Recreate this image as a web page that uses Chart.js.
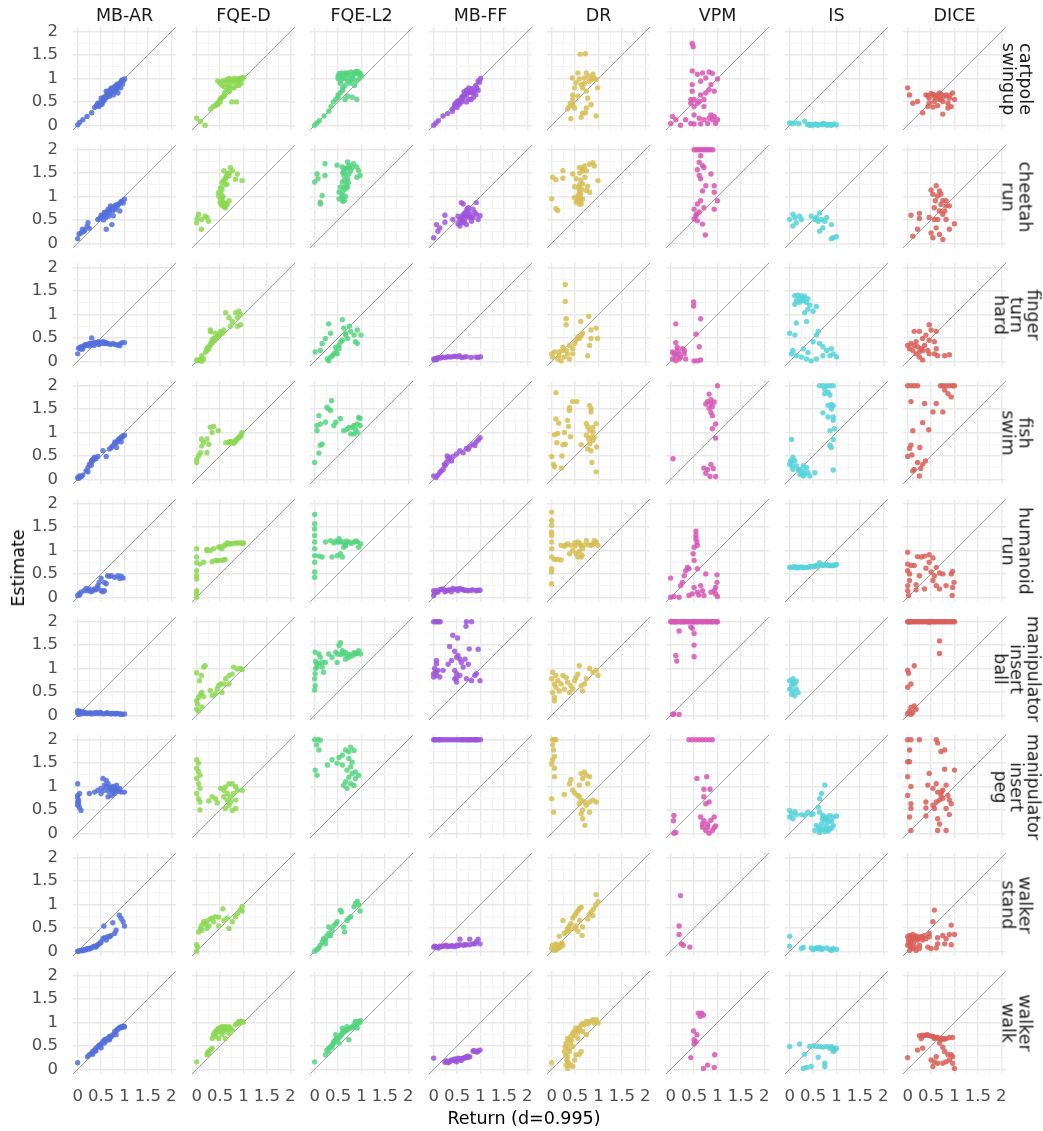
<!DOCTYPE html>
<html>
<head>
<meta charset="utf-8">
<title>Estimate vs Return</title>
<script src="https://cdn.jsdelivr.net/npm/chart.js@4.4.1/dist/chart.umd.min.js"></script>
<style>
  html, body { margin: 0; padding: 0; background: #ffffff; }
  #fig { position: relative; width: 1043px; height: 1131px; overflow: hidden; font-family: 'DejaVu Sans', sans-serif; }
  #fig canvas { position: absolute; }
  .strip-top { position: absolute; font-size: 17.5px; color: #1a1a1a; white-space: nowrap; transform: translate(-50%, -50%); }
  .strip-right { position: absolute; font-size: 17.5px; color: #1a1a1a; line-height: 16.5px; text-align: center; white-space: pre; transform: translate(-50%, -50%) rotate(90deg); }
  .axis-title { position: absolute; font-size: 17.5px; color: #000000; white-space: nowrap; }
</style>
</head>
<body>
<div id="fig"></div>
<script>
// Facet labels
const METHODS = ['MB-AR', 'FQE-D', 'FQE-L2', 'MB-FF', 'DR', 'VPM', 'IS', 'DICE'];
const ENVS = [
  ['cartpole', 'swingup'], ['cheetah', 'run'], ['finger', 'turn', 'hard'], ['fish', 'swim'],
  ['humanoid', 'run'], ['manipulator', 'insert', 'ball'], ['manipulator', 'insert', 'peg'],
  ['walker', 'stand'], ['walker', 'walk']
];
const X_TITLE = 'Return (d=0.995)';
const Y_TITLE = 'Estimate';

// Axis breaks (major with labels, minor without)
const MAJOR_TICKS = [0, 0.5, 1, 1.5, 2];
const TICK_LABELS = ['0', '0.5', '1', '1.5', '2'];
const MINOR_TICKS = [0.25, 0.75, 1.25, 1.75];
const AXIS_LIMITS = [-0.1, 2.1];

const COLORS = ['#5470da', '#8cd852', '#53d57f', '#9d55dc', '#d7be55', '#d756b6', '#56d2da', '#d95f58'];

// [return, estimate] pairs per environment, in ENVS order
const MB_AR = [
  [[0,0.01],[0.04,0.06],[0.11,0.12],[0.2,0.19],[0.3,0.27],[0.36,0.38],[0.4,0.42],[0.43,0.47],[0.45,0.4],[0.48,0.44],[0.5,0.5],[0.52,0.45],[0.55,0.52],[0.5,0.58],[0.58,0.55],[0.6,0.62],[0.61,0.73],[0.65,0.73],[0.68,0.62],[0.7,0.68],[0.72,0.8],[0.74,0.75],[0.76,0.65],[0.79,0.83],[0.8,0.72],[0.83,0.76],[0.85,0.8],[0.86,0.87],[0.86,0.69],[0.9,0.9],[0.92,0.8],[0.94,0.94],[0.96,0.88],[1,0.99],[0.98,0.96],[0.7,0.76],[0.63,0.67],[0.56,0.6],[0.55,0.55],[0.62,0.6],[0.66,0.66],[0.75,0.72],[0.78,0.78],[0.82,0.82],[0.88,0.84],[0.92,0.92],[0.95,0.97],[0.84,0.88],[0.47,0.48],[0.53,0.5],[0.44,0.44]],
  [[0,0.1],[0.03,0.2],[0.07,0.22],[0.1,0.3],[0.15,0.28],[0.2,0.36],[0.22,0.44],[0.25,0.32],[0.13,0.25],[0.43,0.51],[0.47,0.53],[0.5,0.6],[0.54,0.59],[0.57,0.66],[0.6,0.55],[0.62,0.62],[0.65,0.73],[0.68,0.66],[0.72,0.76],[0.75,0.7],[0.79,0.8],[0.8,0.72],[0.86,0.83],[0.9,0.69],[0.94,0.9],[0.97,0.86],[1,0.94],[0.76,0.59],[0.61,0.3],[0.73,0.4],[0.55,0.5],[0.66,0.58],[0.7,0.8],[0.84,0.78],[0.6,0.66],[0.64,0.68],[0.7,0.72],[0.74,0.74],[0.78,0.76],[0.82,0.82],[0.88,0.84],[0.58,0.62],[0.68,0.7],[0.92,0.88]],
  [[0,0.16],[0.02,0.28],[0.05,0.3],[0.08,0.27],[0.1,0.32],[0.15,0.35],[0.2,0.34],[0.25,0.38],[0.3,0.5],[0.3,0.36],[0.35,0.4],[0.4,0.38],[0.45,0.42],[0.45,0.36],[0.5,0.4],[0.55,0.38],[0.55,0.42],[0.6,0.4],[0.65,0.38],[0.7,0.36],[0.75,0.38],[0.8,0.36],[0.85,0.35],[0.9,0.37],[0.9,0.33],[0.95,0.4],[1,0.4],[0.35,0.34],[0.25,0.33],[0.12,0.3],[0.18,0.36],[0.28,0.38],[0.38,0.4],[0.42,0.39],[0.48,0.38],[0.52,0.41],[0.58,0.39],[0.62,0.38],[0.05,0.27],[0.1,0.26]],
  [[0,0.04],[0.04,0.07],[0.08,0.06],[0.11,0.09],[0.18,0.18],[0.22,0.25],[0.25,0.32],[0.29,0.37],[0.32,0.42],[0.36,0.47],[0.39,0.44],[0.43,0.49],[0.54,0.61],[0.61,0.49],[0.68,0.65],[0.72,0.68],[0.75,0.72],[0.79,0.76],[0.83,0.79],[0.86,0.83],[0.9,0.86],[0.93,0.9],[0.97,0.93],[1,0.94],[0.93,0.8],[0.83,0.68],[0.29,0.3],[0.22,0.16],[0.02,0.02],[0.8,0.8],[0.85,0.8],[0.88,0.86],[0.92,0.88],[0.95,0.9],[0.3,0.4],[0.34,0.44],[0.05,0.05]],
  [[0,0.04],[0.03,0.07],[0.04,0.05],[0.07,0.11],[0.14,0.14],[0.18,0.19],[0.22,0.14],[0.25,0.18],[0.29,0.12],[0.32,0.14],[0.39,0.16],[0.43,0.25],[0.46,0.32],[0.5,0.41],[0.5,0.14],[0.54,0.12],[0.57,0.14],[0.57,0.32],[0.61,0.29],[0.64,0.46],[0.68,0.45],[0.72,0.46],[0.79,0.43],[0.86,0.46],[0.93,0.45],[0.97,0.41],[0.9,0.4],[0.43,0.2],[0.36,0.18]],
  [[0,0.05],[0,0.1],[0.02,0.08],[0.03,0.02],[0.05,0.06],[0.08,0.05],[0.1,0.04],[0.12,0.07],[0.15,0.05],[0.2,0.04],[0.25,0.05],[0.3,0.03],[0.35,0.05],[0.4,0.06],[0.45,0.04],[0.5,0.05],[0.55,0.03],[0.6,0.04],[0.65,0.05],[0.7,0.03],[0.75,0.04],[0.8,0.03],[0.85,0.04],[0.9,0.03],[0.95,0.02],[1,0.03],[0.02,0.05],[0.06,0.09],[0.18,0.05],[0.28,0.05],[0.38,0.04],[0.48,0.06],[0.62,0.05],[0.72,0.04],[0.82,0.04],[0.92,0.03]],
  [[0,1.06],[0,0.81],[0,0.76],[0,0.67],[0,0.6],[0.04,0.55],[0.07,0.49],[0.04,0.85],[0.25,0.85],[0.36,0.88],[0.43,0.92],[0.5,0.96],[0.54,1.17],[0.61,1.13],[0.57,1.03],[0.65,1.06],[0.68,0.96],[0.72,0.92],[0.75,1],[0.79,0.96],[0.86,0.92],[0.9,0.96],[0.93,0.88],[1,0.88],[0.72,0.81],[0.65,0.78],[0.79,0.85],[0.83,1.03],[0.57,0.92],[0.5,0.85],[0.7,0.98],[0.74,0.94],[0.78,0.9],[0.8,0.98],[0.84,0.95],[0.88,0.9],[0.76,0.88],[0.66,0.9],[0.62,1],[0.02,0.7],[0.02,0.63]],
  [[0,0],[0.04,0.01],[0.07,0.02],[0.11,0.01],[0.14,0.04],[0.18,0.04],[0.21,0.06],[0.29,0.07],[0.32,0.09],[0.36,0.11],[0.43,0.14],[0.5,0.2],[0.57,0.29],[0.64,0.31],[0.71,0.34],[0.79,0.38],[0.82,0.45],[0.56,0.54],[0.75,0.61],[0.89,0.77],[0.93,0.7],[0.97,0.63],[1,0.54],[0.68,0.31],[0.61,0.24],[0.46,0.16],[0.54,0.27],[0.39,0.09],[0.02,0],[0.09,0.02],[0.16,0.03],[0.24,0.05],[0.27,0.06],[0.34,0.1],[0.41,0.12],[0.48,0.18]],
  [[0,0.14],[0.21,0.27],[0.25,0.31],[0.29,0.34],[0.32,0.38],[0.36,0.41],[0.39,0.45],[0.43,0.48],[0.46,0.51],[0.5,0.54],[0.54,0.59],[0.57,0.63],[0.61,0.61],[0.64,0.66],[0.68,0.63],[0.72,0.7],[0.75,0.74],[0.79,0.81],[0.82,0.82],[0.86,0.86],[0.89,0.89],[0.93,0.91],[0.97,0.91],[1,0.91],[0.32,0.32],[0.39,0.39],[0.5,0.46],[0.57,0.56],[0.68,0.7],[0.82,0.74],[0.85,0.85],[0.9,0.88],[0.95,0.9],[0.98,0.92],[0.62,0.64],[0.66,0.66],[0.7,0.69],[0.45,0.5],[0.48,0.52],[0.35,0.38]]
];

const FQE_D = [
  [[0,0.15],[0.08,0.08],[0.18,0],[0.3,0.35],[0.35,0.4],[0.4,0.42],[0.45,0.48],[0.5,0.5],[0.5,0.55],[0.52,0.58],[0.55,0.6],[0.58,0.62],[0.6,0.65],[0.6,0.7],[0.65,0.75],[0.7,0.72],[0.75,0.8],[0.8,0.8],[0.85,0.85],[0.5,0.9],[0.45,0.95],[0.55,0.95],[0.6,0.82],[0.55,0.85],[0.65,0.9],[0.7,0.85],[0.7,1],[0.75,0.95],[0.8,1],[0.85,0.95],[0.9,1],[0.9,0.85],[0.95,1],[0.95,0.9],[1,1.02],[0.75,0.5],[0.85,0.5],[0.6,0.95],[0.65,0.98],[0.72,0.97],[0.78,0.92],[0.82,0.98],[0.88,0.98],[0.92,0.95],[0.98,1],[0.45,0.45],[0.48,0.5],[0.42,0.45],[0.68,0.8]],
  [[0.04,0.62],[0.11,0.51],[0.22,0.55],[0.25,0.47],[0,0.44],[0.1,0.3],[0.01,0.53],[0.18,0.58],[0.5,0.87],[0.58,0.8],[0.61,0.76],[0.65,0.83],[0.69,0.91],[0.54,0.98],[0.47,1.09],[0.51,1.19],[0.54,1.3],[0.61,1.37],[0.69,1.44],[0.72,1.62],[0.58,1.55],[0.76,1.55],[0.87,1.48],[0.97,1.34],[0.83,1.37],[0.65,1.26],[0.54,1.15],[0.47,1.01],[0.51,0.94],[0.58,0.86],[0.62,1.4],[0.66,1.5],[0.6,0.78],[0.52,0.84],[0.55,0.9],[0.6,0.82],[0.56,1],[0.52,1.05],[0.6,1.25],[0.58,1.35],[0.64,1.45],[0.7,1.5],[0.55,0.8],[0.62,0.85]],
  [[0,0.03],[0.04,0.01],[0.11,0],[0.15,0.05],[0.22,0.23],[0.26,0.27],[0.3,0.38],[0.33,0.45],[0.36,0.49],[0.4,0.6],[0.47,0.56],[0.51,0.64],[0.58,0.67],[0.29,0.67],[0.3,0.63],[0.62,1.04],[0.69,0.93],[0.83,1.04],[0.9,1.07],[0.94,1],[0.87,0.93],[0.76,0.85],[0.72,0.75],[0.87,0.75],[0.94,0.78],[0.55,0.6],[0.44,0.53],[0.19,0.2],[0.11,0.12],[0.22,0.27],[0.08,0.04],[0.02,0.02],[0.06,0.03],[0.24,0.3],[0.28,0.33],[0.34,0.4],[0.38,0.45],[0.42,0.5],[0.5,0.58]],
  [[0,0.36],[0.04,0.5],[0.08,0.57],[0.11,0.71],[0.1,0.86],[0.22,0.86],[0.26,0.75],[0.15,0.79],[0.29,1.11],[0.36,1.13],[0.46,1.04],[0.33,1],[0.22,0.57],[0,0.43],[0.62,0.78],[0.69,0.78],[0.76,0.79],[0.83,0.83],[0.87,0.86],[0.94,0.93],[0.97,1],[0.8,0.78],[0.9,0.9],[0.72,0.81],[0.7,0.8],[0.75,0.8],[0.78,0.77],[0.82,0.8],[0.85,0.85],[0.92,0.9],[0.95,0.95]],
  [[0,0],[0,0.07],[0,0.14],[0,0.39],[0,0.46],[0,0.57],[0,0.74],[0,0.86],[0.07,0.71],[0.15,0.75],[0,1.04],[0.22,1],[0.29,1],[0.36,1.04],[0.47,1.07],[0.54,1.04],[0.65,1.16],[0.72,1.14],[0.83,1.16],[0.94,1.16],[1,1.16],[0.4,0.79],[0.47,0.79],[0.54,0.79],[0.61,0.81],[0.33,0.76],[0.22,1.02],[0.5,1.08],[0.58,1.1],[0.62,1.12],[0.68,1.15],[0.76,1.15],[0.88,1.16],[0.98,1.15],[0.44,0.78],[0.58,0.8]],
  [[0,0.13],[0.02,0.24],[0,0.31],[0.04,0.38],[0.08,0.45],[0.11,0.49],[0.15,0.4],[0,0.91],[0.06,0.74],[0.1,0.85],[0.15,1.03],[0.18,1.06],[0.29,0.53],[0.4,0.46],[0.44,0.57],[0.47,0.64],[0.51,0.67],[0.54,0.49],[0.58,0.67],[0.62,0.78],[0.69,0.67],[0.69,0.85],[0.76,0.88],[0.79,1.03],[0.87,0.99],[0.94,1],[0.97,0.98],[0.33,0.42],[0.04,0.09],[0.11,0.18]],
  [[0,1.57],[0.04,1.5],[0,1.39],[0.04,1.32],[0.07,1.24],[0,1.17],[0.04,1.06],[0.07,0.96],[0,0.85],[0.04,0.74],[0.07,0.67],[0.07,0.5],[0.26,0.69],[0.33,0.78],[0.4,0.74],[0.44,0.65],[0.51,0.96],[0.58,0.92],[0.61,0.99],[0.69,1.06],[0.76,1.06],[0.83,1],[0.87,0.92],[0.79,0.85],[0.72,0.78],[0.65,0.71],[0.69,0.6],[0.61,0.53],[0.76,0.49],[0.83,0.53],[0.72,0.67],[0.83,0.71],[0.97,0.92],[0.58,0.78],[0.65,0.85]],
  [[0,0],[0,0.14],[0.02,0.09],[0.04,0.41],[0.08,0.49],[0.11,0.56],[0.15,0.63],[0.18,0.59],[0.22,0.65],[0.29,0.69],[0.33,0.71],[0.4,0.74],[0.47,0.73],[0.36,0.63],[0.26,0.54],[0.47,0.54],[0.56,0.91],[0.58,0.66],[0.65,0.71],[0.69,0.49],[0.76,0.63],[0.83,0.74],[0.87,0.81],[0.94,0.89],[0.97,0.96],[0.97,0.86],[0.11,0.45],[0.22,0.49]],
  [[0,0.16],[0.22,0.31],[0.26,0.38],[0.29,0.41],[0.33,0.45],[0.33,0.66],[0.36,0.74],[0.4,0.81],[0.44,0.84],[0.47,0.88],[0.51,0.89],[0.54,0.91],[0.58,0.88],[0.61,0.91],[0.65,0.84],[0.69,0.91],[0.72,0.88],[0.76,0.84],[0.83,0.95],[0.87,0.98],[0.9,1.02],[0.97,1.02],[1,1.01],[0.54,0.74],[0.61,0.66],[0.69,0.77],[0.47,0.66],[0.4,0.7],[0.51,0.81],[0.58,0.81],[0.45,0.85],[0.5,0.86],[0.55,0.9],[0.6,0.86],[0.63,0.9],[0.68,0.88],[0.42,0.78],[0.38,0.77],[0.25,0.34],[0.24,0.36],[0.92,1],[0.95,1.02]]
];

const FQE_L2 = [
  [[0,0],[0.05,0.05],[0.1,0.1],[0.2,0.2],[0.3,0.3],[0.35,0.4],[0.4,0.5],[0.45,0.55],[0.5,0.6],[0.5,0.65],[0.55,0.7],[0.6,0.75],[0.55,0.95],[0.5,1.05],[0.5,1],[0.6,1.05],[0.65,1],[0.7,1.08],[0.75,1],[0.8,1.05],[0.85,1.1],[0.9,1.1],[0.95,1.12],[1,1.05],[0.9,0.95],[0.85,0.85],[0.75,0.9],[0.65,0.85],[0.6,0.8],[0.8,0.6],[0.65,0.55],[0.9,0.55],[0.7,0.62],[0.55,0.9],[0.95,1],[0.7,0.95],[0.8,0.95],[0.52,1.1],[0.58,1.12],[0.62,1.1],[0.66,1.12],[0.72,1.12],[0.78,1.14],[0.84,1.12],[0.88,1.15],[0.92,1.15],[0.97,1.1],[0.6,1],[0.82,1]],
  [[0,1.31],[0.07,1.38],[0.22,1.45],[0.22,1.7],[0.05,1.48],[0.16,1.02],[0.12,0.84],[0.12,0.88],[0.48,1.67],[0.59,1.63],[0.7,1.74],[0.73,1.67],[0.83,1.7],[0.9,1.63],[0.94,1.55],[0.97,1.45],[0.9,1.41],[0.66,1.6],[0.63,1.45],[0.59,1.31],[0.55,1.2],[0.52,1.09],[0.52,0.95],[0.63,0.91],[0.59,1.02],[0.66,1.16],[0.7,1.38],[0.73,1.48],[0.77,1.55],[0.8,1.62],[0.6,1.5],[0.68,1.25],[0.62,1.55],[0.65,1.5],[0.64,1.35],[0.62,1.2],[0.6,1.1],[0.58,0.98],[0.66,1],[0.7,1.2],[0.72,1.3],[0.68,1.6],[0.74,1.62],[0.6,0.9]],
  [[0.01,0.2],[0.12,0.23],[0.16,0.38],[0.23,0.49],[0.3,0.8],[0.34,0.6],[0.41,0.16],[0.27,0.05],[0.34,0.09],[0.38,0.12],[0.45,0.2],[0.52,0.27],[0.56,0.42],[0.59,0.45],[0.62,0.71],[0.66,0.6],[0.7,0.49],[0.74,0.75],[0.77,0.64],[0.84,0.56],[0.91,0.67],[0.99,0.56],[0.91,0.38],[0.87,0.42],[0.59,0.89],[0.66,0.56],[0.48,0.16],[0.3,0.01],[0.52,0.35],[0.45,0.3]],
  [[0,0.36],[0.09,0.56],[0.12,0.73],[0.16,0.75],[0.05,1.04],[0.05,1.15],[0.12,1.18],[0.09,1.36],[0.23,1.22],[0.26,1.54],[0.3,1.5],[0.36,1.68],[0.34,1.47],[0.41,1.15],[0.45,1.22],[0.55,1.3],[0.62,1.04],[0.69,1.07],[0.73,1.11],[0.77,0.97],[0.8,1.11],[0.84,1.15],[0.87,1.07],[0.91,1.18],[0.94,1.32],[0.97,1.3],[0.91,1],[0.84,0.97],[0.97,1.15]],
  [[0,1.77],[0,1.57],[0,1.46],[0,1.32],[0,1.18],[0,1.04],[0,0.89],[0,0.75],[0,0.54],[0,0.43],[0.09,0.88],[0.16,0.86],[0.23,1.18],[0.34,1.21],[0.41,1.16],[0.52,1.25],[0.55,1.18],[0.37,0.86],[0.48,0.89],[0.55,0.93],[0.62,1.07],[0.66,1.14],[0.73,1.18],[0.84,1.18],[0.91,1.19],[0.98,1.14],[0.94,1.07],[0.59,0.86],[0.45,1.2],[0.6,1.18],[0.68,1.2],[0.78,1.15],[0.88,1.2],[0.5,1.18],[0.66,1.1]],
  [[0,0.54],[0.01,0.63],[0,0.78],[0.01,0.89],[0.05,1.03],[0.09,1.1],[0.12,1.24],[0.09,1.31],[0.01,1.35],[0.16,1.03],[0.19,0.92],[0.23,1.13],[0.3,1.31],[0.37,1.24],[0.45,1.35],[0.48,1.31],[0.52,1.49],[0.55,1.55],[0.59,1.38],[0.62,1.31],[0.66,1.2],[0.73,1.24],[0.8,1.27],[0.87,1.31],[0.94,1.38],[0.98,1.31],[0.66,1.35],[0.48,1.13],[0.16,1.13],[0.55,1.3],[0.6,1.33],[0.7,1.28],[0.75,1.3],[0.84,1.34],[0.9,1.32],[0.02,1],[0.05,1.1],[0.02,1.15]],
  [[0,2],[0.07,2],[0.12,1.99],[0.04,1.89],[0.09,1.78],[0.01,1.35],[0.05,1.24],[0.27,1.46],[0.37,1.57],[0.48,1.5],[0.52,1.62],[0.59,1.67],[0.66,1.78],[0.73,1.74],[0.77,1.84],[0.84,1.77],[0.73,1.6],[0.8,1.52],[0.59,1.46],[0.77,1.42],[0.69,1.35],[0.8,1.28],[0.87,1.31],[0.94,1.24],[0.73,1.2],[0.66,1.1],[0.77,1.06],[0.69,0.96],[0.87,1.17],[0.84,1.02],[0.62,1.02]],
  [[0,0],[0.05,0.04],[0.09,0.07],[0.12,0.13],[0.16,0.2],[0.19,0.27],[0.23,0.24],[0.26,0.33],[0.3,0.38],[0.3,0.52],[0.37,0.45],[0.41,0.54],[0.45,0.59],[0.48,0.63],[0.55,0.88],[0.57,0.84],[0.62,0.52],[0.64,0.41],[0.69,0.66],[0.73,0.71],[0.77,0.74],[0.84,0.95],[0.87,1.02],[0.91,1.07],[0.94,0.99],[0.97,0.86],[0.23,0.16],[0.34,0.34]],
  [[0,0.16],[0.23,0.31],[0.26,0.41],[0.3,0.45],[0.34,0.48],[0.37,0.52],[0.41,0.59],[0.45,0.63],[0.48,0.66],[0.52,0.68],[0.52,0.56],[0.55,0.73],[0.59,0.77],[0.62,0.81],[0.66,0.84],[0.69,0.84],[0.59,0.88],[0.69,0.91],[0.73,0.63],[0.77,0.88],[0.8,0.91],[0.84,0.95],[0.87,1.02],[0.91,0.99],[0.94,1.02],[0.98,1.04],[0.91,0.88],[0.45,0.74],[0.3,0.38],[0.37,0.47],[0.4,0.55],[0.43,0.6],[0.47,0.63],[0.5,0.66],[0.54,0.7],[0.57,0.74],[0.6,0.78],[0.64,0.8],[0.72,0.86],[0.82,0.9],[0.9,0.95],[0.96,1]]
];

const MB_FF = [
  [[0,0],[0.05,0.05],[0.1,0.1],[0.2,0.2],[0.3,0.25],[0.4,0.35],[0.45,0.4],[0.5,0.45],[0.55,0.5],[0.6,0.55],[0.65,0.6],[0.7,0.65],[0.75,0.7],[0.8,0.75],[0.9,0.85],[0.95,0.95],[1,1],[0.98,0.92],[0.85,0.6],[0.8,0.55],[0.9,0.65],[0.75,0.55],[0.7,0.5],[0.6,0.6],[0.55,0.45],[0.5,0.5],[0.45,0.45],[0.65,0.72],[0.7,0.75],[0.75,0.8],[0.8,0.7],[0.85,0.7],[0.95,0.75],[0.6,0.5],[0.5,0.38],[0.4,0.3],[0.62,0.62],[0.66,0.66],[0.72,0.7],[0.78,0.72],[0.82,0.78],[0.88,0.75],[0.92,0.8],[0.58,0.55],[0.48,0.48],[0.52,0.52]],
  [[0,0.12],[0.09,0.26],[0.13,0.33],[0.06,0.4],[0.24,0.6],[0.24,0.45],[0.41,0.51],[0.52,0.42],[0.56,0.37],[0.59,0.87],[0.63,0.84],[0.66,0.65],[0.71,0.73],[0.74,0.69],[0.74,0.59],[0.84,0.55],[0.91,0.62],[0.99,0.59],[0.95,0.51],[0.88,0.66],[0.81,0.47],[0.7,0.4],[0.63,0.44],[0.56,0.51],[0.52,0.58],[0.59,0.55],[0.74,0.76],[0.84,0.73],[0.91,0.87],[0.62,0.48],[0.78,0.62],[0.6,0.52],[0.64,0.56],[0.68,0.6],[0.72,0.58],[0.76,0.55],[0.8,0.55],[0.66,0.48],[0.58,0.45],[0.7,0.66],[0.62,0.6]],
  [[0,0.05],[0.02,0.03],[0.05,0.06],[0.07,0.04],[0.1,0.08],[0.15,0.07],[0.2,0.09],[0.25,0.08],[0.3,0.1],[0.35,0.09],[0.4,0.1],[0.45,0.11],[0.5,0.1],[0.55,0.12],[0.6,0.08],[0.65,0.09],[0.7,0.1],[0.8,0.08],[0.9,0.09],[0.95,0.08],[1,0.1]],
  [[0,0.07],[0.05,0.04],[0.09,0.09],[0.13,0.14],[0.2,0.21],[0.24,0.29],[0.27,0.36],[0.31,0.43],[0.29,0.5],[0.38,0.39],[0.41,0.49],[0.49,0.54],[0.56,0.61],[0.63,0.57],[0.7,0.66],[0.77,0.7],[0.84,0.75],[0.91,0.8],[0.95,0.84],[0.99,0.89],[0.88,0.72],[0.74,0.64],[0.34,0.46],[0.16,0.18],[0.23,0.32]],
  [[0,0.04],[0,0.14],[0.02,0.09],[0.06,0.14],[0.13,0.16],[0.2,0.18],[0.27,0.14],[0.34,0.16],[0.41,0.19],[0.49,0.18],[0.56,0.19],[0.63,0.16],[0.66,0.15],[0.74,0.14],[0.84,0.16],[0.91,0.14],[0.99,0.15],[0.24,0.12],[0.09,0.11],[0.38,0.12],[0.52,0.14],[0.03,0.11],[0.16,0.17],[0.3,0.15],[0.45,0.17],[0.6,0.17],[0.7,0.15],[0.8,0.15],[0.95,0.15]],
  [[0,2],[0.04,2],[0.07,2],[0.11,2],[0.14,2],[0.7,2],[0.81,2],[0.69,1.9],[0.41,1.71],[0.51,1.65],[0.34,1.47],[0.76,1.42],[0.95,1.41],[0.45,1.37],[0.52,1.28],[0.49,1.24],[0.38,1.17],[0.31,1.09],[0.56,1.2],[0.67,1.2],[0.59,1.13],[0.74,1.09],[0.06,1.17],[0.06,1.1],[0.02,1],[0.09,0.96],[0,0.89],[0.06,0.85],[0.13,0.82],[0,0.82],[0.2,0.96],[0.45,0.96],[0.49,0.89],[0.45,0.78],[0.49,0.71],[0.56,0.85],[0.7,0.78],[0.81,0.74],[0.91,0.89],[0.99,0.74],[0.88,0.85],[0.63,1.03],[0.49,0.8],[0.05,0.92]],
  [[0,2],[0.02,2],[0.05,2],[0.1,2],[0.25,2],[0.3,2],[0.35,2],[0.4,2],[0.45,2],[0.5,2],[0.55,2],[0.6,2],[0.65,2],[0.7,2],[0.75,2],[0.8,2],[0.85,2],[0.9,2],[0.95,2],[1,2],[0.12,2],[0.15,2],[0.2,2],[0.62,2],[0.72,2],[0.78,2],[0.88,2],[0.92,2]],
  [[0,0.09],[0.02,0.11],[0.06,0.09],[0.13,0.11],[0.2,0.11],[0.27,0.13],[0.34,0.11],[0.41,0.11],[0.49,0.13],[0.56,0.14],[0.56,0.26],[0.63,0.13],[0.66,0.14],[0.77,0.14],[0.77,0.26],[0.84,0.16],[0.91,0.2],[0.95,0.26],[0.99,0.16],[0.45,0.1],[0.3,0.1],[0.1,0.07],[0.04,0.1],[0.16,0.1],[0.24,0.12],[0.38,0.12],[0.52,0.12],[0.7,0.14],[0.88,0.16]],
  [[0,0.24],[0.24,0.15],[0.27,0.18],[0.34,0.16],[0.38,0.2],[0.41,0.19],[0.45,0.22],[0.49,0.2],[0.52,0.24],[0.56,0.22],[0.63,0.24],[0.66,0.25],[0.7,0.27],[0.74,0.26],[0.77,0.27],[0.84,0.39],[0.88,0.38],[0.91,0.38],[0.95,0.39],[0.99,0.41],[0.31,0.14],[0.49,0.16],[0.59,0.19],[0.28,0.17],[0.36,0.18],[0.43,0.2],[0.54,0.22],[0.6,0.23],[0.68,0.24],[0.72,0.28],[0.86,0.4],[0.93,0.37]]
];

const DR = [
  [[0.61,1.52],[0.72,1.53],[0.44,1.01],[0.56,1.12],[0.74,1.12],[0.88,1.09],[0.95,0.98],[0.8,0.94],[0.59,0.99],[0.49,0.8],[0.66,0.8],[0.98,0.8],[0.74,0.73],[0.45,0.65],[0.56,0.62],[0.77,0.58],[0.45,0.55],[0.38,0.4],[0.45,0.44],[0.34,0.35],[0.74,0.37],[0.84,0.44],[0.66,0.26],[0.72,0.27],[0.95,0.2],[0.63,0.17],[0.41,0.14],[0.52,0.91],[0.63,0.87],[0.7,1.01],[0.8,1.05],[0.9,1.01],[0.49,0.37],[0.4,0.47],[0.7,0.9],[0.85,0.98]],
  [[0.02,1.41],[0.09,1.36],[0.24,1.55],[0.24,1.39],[0,0.95],[0.09,0.74],[0.13,0.7],[0.45,1.48],[0.49,1.21],[0.52,1.38],[0.59,1.62],[0.66,1.55],[0.81,1.69],[0.88,1.72],[0.91,1.65],[0.74,1.55],[0.71,1.41],[0.66,1.27],[0.59,1.13],[0.56,0.98],[0.63,0.84],[0.52,0.88],[0.49,0.98],[0.74,1.13],[0.81,1.09],[0.99,1.34],[0.77,1.22],[0.59,0.84],[0.66,0.95],[0.62,1.05],[0.6,1.5],[0.62,1.35],[0.6,1.25],[0.58,1.05],[0.6,0.95],[0.62,0.9],[0.64,1.15],[0.65,1.6],[0.7,1.65],[0.56,0.9],[0.57,1.2]],
  [[0.29,1.64],[0.29,1.28],[0.31,0.91],[0.31,0.78],[0.62,0.85],[0.79,0.96],[0.66,0.6],[0.59,0.49],[0.63,0.55],[0.84,0.67],[0.95,0.71],[0.98,0.49],[0.84,0.49],[0.81,0.34],[0.77,0.12],[0.49,0.38],[0.45,0.27],[0.38,0.34],[0.24,0.23],[0.16,0.2],[0.06,0.2],[0,0.16],[0.02,0.09],[0.13,0.05],[0.2,0.01],[0.27,0.09],[0.34,0.16],[0.31,0.23],[0.52,0.45],[0.56,0.52],[0.38,0.05],[0.45,0.16],[0.16,0.12],[0.24,0.3]],
  [[0.09,1.85],[0.45,1.66],[0.54,1.66],[0.38,1.53],[0.38,1.47],[0.81,1.58],[0.84,1.51],[0.84,1.44],[0.09,1.29],[0.15,1.2],[0.34,1.26],[0.36,1.13],[0.06,0.95],[0.13,0.98],[0.27,1],[0.4,0.91],[0.11,0.78],[0.24,0.74],[0.29,0.75],[0.74,1.19],[0.77,1.12],[0.81,1.04],[0.88,1.11],[0.95,1.19],[0.74,0.94],[0.84,0.9],[0.88,0.83],[0.81,0.76],[0.63,0.74],[0.77,0.65],[0.96,0.69],[0.84,0.61],[0,0.49],[0.04,0.32],[0.06,0.27],[0.22,0.5],[0.21,0.24],[0.86,0.36],[0.95,0.16],[0.88,1.01],[0.91,0.9],[0.79,0.86]],
  [[0,1.82],[0,1.64],[0,1.54],[0,1.39],[0,1.32],[0,1.18],[0,1.04],[0,0.86],[0.06,0.81],[0.13,0.81],[0.2,0.8],[0,0.61],[0,0.54],[0,0.29],[0.2,1.11],[0.27,1.09],[0.34,1.14],[0.41,1.11],[0.49,1.16],[0.56,1.18],[0.45,1],[0.52,0.93],[0.59,0.98],[0.63,0.86],[0.66,1.04],[0.74,1.21],[0.84,1.11],[0.88,1.14],[0.95,1.18],[0.99,1.11],[0.91,1.21],[0.56,0.86],[0.38,0.93],[0.62,1.1],[0.5,1.1],[0.8,1.12],[0.92,1.15],[0.3,1.12],[0.65,0.9],[0.7,1.12],[0.6,1.15]],
  [[0.02,0.92],[0.09,0.85],[0,0.78],[0.13,0.74],[0.06,0.67],[0.09,0.6],[0.02,0.49],[0.06,0.38],[0.06,0.31],[0.16,0.52],[0.24,0.85],[0.31,0.81],[0.34,0.71],[0.41,0.63],[0.45,0.56],[0.49,0.74],[0.52,0.81],[0.56,0.88],[0.59,1.06],[0.63,0.63],[0.66,0.52],[0.7,0.67],[0.74,0.78],[0.81,1],[0.88,0.92],[0.95,0.96],[0.99,0.85],[0.38,0.49],[0.27,0.56],[0.2,0.67]],
  [[0.02,2],[0.06,2],[0.09,2],[0.02,1.89],[0.04,1.78],[0.06,1.64],[0.02,1.57],[0,1.48],[0.06,1.39],[0.06,1.21],[0,0.74],[0.04,0.45],[0.27,0.83],[0.41,1.15],[0.38,1.06],[0.45,0.92],[0.49,0.86],[0.56,0.81],[0.59,0.78],[0.63,1.28],[0.7,1.31],[0.74,1.24],[0.81,1.21],[0.66,1.17],[0.77,1.06],[0.59,1.03],[0.63,0.71],[0.7,0.67],[0.81,0.67],[0.88,0.71],[0.95,0.67],[0.74,0.6],[0.66,0.5],[0.63,0.42],[0.66,0.31],[0.71,0.17],[0.81,0.45],[0.59,0.63]],
  [[0,0.06],[0.02,0.13],[0.06,0.02],[0.13,0.06],[0.16,0.11],[0.2,0.16],[0.24,0.13],[0.09,0.16],[0.16,0.32],[0.27,0.38],[0.31,0.41],[0.34,0.49],[0.24,0.66],[0.38,0.54],[0.41,0.59],[0.45,0.71],[0.49,0.76],[0.52,0.81],[0.56,0.86],[0.59,0.91],[0.63,0.94],[0.38,0.45],[0.49,0.49],[0.52,0.54],[0.6,0.66],[0.65,0.34],[0.81,0.79],[0.84,0.84],[0.89,0.9],[0.94,0.99],[0.95,1.21],[0.99,1.06],[0.88,0.76],[0.77,0.69],[0.66,0.52],[0.56,0.43],[0.04,0.05],[0.1,0.04],[0.12,0.12],[0.18,0.08],[0.22,0.18]],
  [[0,0.14],[0.27,0.38],[0.29,0.49],[0.31,0.56],[0.34,0.66],[0.38,0.63],[0.41,0.7],[0.45,0.77],[0.45,0.49],[0.49,0.82],[0.52,0.88],[0.56,0.84],[0.59,0.89],[0.63,0.95],[0.66,0.98],[0.74,1.02],[0.81,1.02],[0.88,1.06],[0.91,0.99],[0.95,1.06],[0.99,0.99],[0.38,0.38],[0.34,0.27],[0.31,0.09],[0.34,0.02],[0.45,0.06],[0.49,0.2],[0.52,0.31],[0.59,0.32],[0.63,0.38],[0.74,0.74],[0.66,0.81],[0.56,0.66],[0.3,0.3],[0.32,0.2],[0.35,0.45],[0.4,0.55],[0.42,0.62],[0.48,0.72],[0.55,0.78],[0.6,0.85],[0.7,0.95],[0.78,0.98],[0.4,0.1],[0.35,0.15]]
];

const VPM = [
  [[0.46,1.75],[0.48,1.68],[0.46,1.16],[0.57,1.09],[0.68,1.12],[0.82,1.14],[0.89,1.11],[1,0.99],[0.75,1.01],[0.64,0.94],[0.46,0.87],[0.86,0.87],[0.82,0.76],[0.93,0.73],[0.75,0.69],[0.46,0.73],[0.64,0.65],[0.43,0.55],[0.5,0.55],[0.71,0.55],[0.61,0.51],[0.43,0.47],[0.57,0.47],[0.71,0.4],[0.5,0.4],[0.04,0.19],[0.11,0.12],[0,0.04],[0.21,0],[0.32,0.12],[0.43,0.04],[0.5,0.22],[0.61,0.15],[0.71,0.12],[0.86,0.22],[0.93,0.19],[0.89,0.12],[0.96,0.04],[0.79,0.04],[0.64,0.03],[0.5,0.03],[1,0.12],[0.82,0.15]],
  [[0.5,2],[0.55,2],[0.6,2],[0.65,2],[0.7,2],[0.75,2],[0.8,2],[0.85,2],[0.9,2],[0.64,1.87],[0.61,1.73],[0.68,1.66],[0.71,1.62],[0.61,1.45],[0.86,1.48],[0.64,1.38],[0.57,1.57],[0.93,1.23],[0.75,1.23],[0.68,1.12],[0.93,1.09],[1,0.91],[0.64,0.91],[0.57,0.84],[0.71,0.76],[0.5,0.73],[0.61,0.67],[0.54,0.59],[0.5,0.52],[0.57,0.48],[0.68,0.41],[0.74,0.18],[0.93,0.73],[0.55,0.62]],
  [[0.49,1.27],[0.49,1.18],[0.11,0.8],[0.64,0.91],[0.54,0.58],[0.11,0.4],[0.61,0.31],[0.14,0.23],[0.07,0.16],[0.18,0.16],[0.21,0.09],[0.29,0.16],[0.32,0.05],[0.04,0.05],[0.11,0.01],[0.5,0.01],[0.57,0.01],[0.64,0.03],[0.25,0.27],[0.29,0.23],[0.14,0.3],[0.11,0.12],[0.04,0.2],[0.18,0.05]],
  [[1,2],[0.82,1.82],[0.79,1.66],[0.75,1.61],[0.86,1.62],[0.93,1.65],[0.89,1.55],[0.82,1.52],[0.86,1.43],[0.89,1.36],[0.96,1.18],[0.89,1.08],[0.96,0.88],[0.05,0.44],[0.71,0.24],[0.79,0.21],[0.86,0.32],[0.91,0.23],[0.75,0.13],[0.84,0.06],[0.96,0.06],[0.86,1.7]],
  [[0.54,1.41],[0.54,1.32],[0.54,1.25],[0.56,1.18],[0.57,1.11],[0.5,1.07],[0.48,0.93],[0.5,0.79],[0.36,0.64],[0.39,0.61],[0.32,0.57],[0.57,0.61],[0.75,0.5],[0.99,0.48],[0,0.41],[0.29,0.46],[0.25,0.32],[0.21,0.25],[0.5,0.21],[0.64,0.25],[0.68,0.14],[0.57,0.11],[0.46,0.07],[0.39,0.04],[0.07,0.02],[0.18,0],[0,0],[0.71,0.04],[0.93,0.14],[0.96,0.21],[0.99,0.32],[0.96,0.07],[0.86,0.11],[1,0.02],[0.6,0.05]],
  [[0,2],[0.05,2],[0.1,2],[0.15,2],[0.2,2],[0.25,2],[0.3,2],[0.35,2],[0.4,2],[0.45,2],[0.5,2],[0.55,2],[0.6,2],[0.65,2],[0.7,2],[0.75,2],[0.8,2],[0.85,2],[0.9,2],[0.95,2],[1,2],[0.02,2],[0.08,2],[0.12,2],[0.22,2],[0.28,2],[0.38,2],[0.48,2],[0.52,2],[0.58,2],[0.68,2],[0.78,2],[0.88,2],[0.98,2],[0.43,1.89],[0.46,1.86],[0.18,1.8],[0.5,1.75],[0.5,1.5],[0.5,1.25],[0.11,1.28],[0.13,1.16],[0.04,0.02],[0.07,0.03],[0.18,0.02]],
  [[0.39,2],[0.46,2],[0.54,2],[0.61,2],[0.68,2],[0.75,2],[0.82,2],[0.89,2],[0.56,1.17],[0.77,1.21],[0.71,0.94],[0.84,0.94],[0.71,0.78],[0.82,0.67],[0.75,0.63],[0.07,0.38],[0.06,0.27],[0.11,0.02],[0.07,0],[0.64,0.35],[0.71,0.27],[0.79,0.2],[0.93,0.35],[0.96,0.16],[0.68,0.13],[0.75,0.06],[0.82,0],[0.89,0.06],[0.68,0.2],[0.79,0.13],[0.93,0.12],[0.86,0.28]],
  [[0.21,1.19],[0.18,0.54],[0.18,0.36],[0.23,0.16],[0.27,0.13],[0.41,0.09]],
  [[0.59,1.2],[0.66,1.2],[0.7,1.16],[0.63,1.13],[0.49,0.82],[0.56,0.74],[0.5,0.63],[0.54,0.59],[0.5,0.54],[0.43,0.25],[0.94,0.31],[0.79,0.09],[0.7,0.02],[0.93,0.04]]
];

const IS = [
  [[0,0.05],[0.05,0.04],[0.12,0.05],[0.2,0.04],[0.32,0.09],[0.38,0.02],[0.42,0],[0.45,0.02],[0.5,0.01],[0.55,0.03],[0.6,0],[0.65,0.02],[0.7,0.01],[0.75,0.03],[0.8,0],[0.85,0.02],[0.9,0.01],[0.95,0.03],[1,0.01],[0.58,0.02],[0.72,0.04],[0.88,0],[0.48,0]],
  [[0,0.51],[0.07,0.62],[0.11,0.55],[0.14,0.44],[0.21,0.58],[0.25,0.51],[0.07,0.37],[0.46,0.58],[0.57,0.55],[0.64,0.65],[0.68,0.51],[0.75,0.47],[0.79,0.55],[0.89,0.4],[0.71,0.33],[0.64,0.26],[0.93,0.12],[1,0.14],[0.89,0.1],[0.61,0.47],[0.54,0.51]],
  [[0.11,1.4],[0.18,1.41],[0.25,1.4],[0.32,1.39],[0.39,1.34],[0.14,1.29],[0.21,1.26],[0.29,1.29],[0.36,1.26],[0.43,1.2],[0.11,1.22],[0.57,1.17],[0.5,1.07],[0.39,1.11],[0.32,1.04],[0.14,0.82],[0.36,0.85],[0,0.6],[0.11,0.56],[0.61,0.64],[0.57,0.56],[0.5,0.42],[0.64,0.38],[0.71,0.31],[0.79,0.23],[0.89,0.27],[0.93,0.16],[1,0.1],[0.86,0.12],[0.71,0.12],[0.57,0.05],[0.46,0.01],[0.36,0.05],[0.25,0.09],[0.14,0.12],[0.04,0.16],[0.07,0.23],[0.29,0.27],[0.39,0.19],[0.2,1.33],[0.28,1.35]],
  [[0.64,2],[0.71,2],[0.79,2],[0.86,2],[0.93,2],[0.75,1.93],[0.82,1.86],[0.75,1.83],[0.86,1.8],[0.89,1.6],[0.93,1.57],[0.82,1.58],[0.89,1.5],[0.71,1.42],[0.82,1.33],[0.93,1.33],[0.93,1.26],[0.86,1.04],[0.96,1.08],[0.93,0.85],[0.86,0.73],[0.89,0.68],[0.04,0.85],[0.07,0.47],[0.11,0.4],[0.04,0.36],[0,0.32],[0.14,0.29],[0.07,0.21],[0.21,0.21],[0.29,0.29],[0.36,0.25],[0.25,0.14],[0.32,0.11],[0.39,0.14],[0.54,0.14],[0.43,0.07],[0.29,0.07],[0.93,0.2],[0.18,0.2],[0.22,0.1],[0.3,0.18],[0.02,0.4],[0.05,0.28]],
  [[0,0.64],[0.07,0.64],[0.14,0.63],[0.21,0.64],[0.29,0.63],[0.36,0.64],[0.43,0.66],[0.5,0.66],[0.57,0.68],[0.64,0.74],[0.71,0.68],[0.79,0.7],[0.86,0.68],[0.93,0.68],[1,0.7],[0.11,0.66],[0.25,0.65],[0.4,0.64],[0.54,0.66],[0.68,0.69],[0.03,0.64],[0.18,0.63],[0.32,0.64],[0.47,0.65],[0.6,0.67],[0.75,0.69],[0.82,0.68],[0.9,0.68],[0.97,0.69]],
  [[0,0.74],[0.07,0.7],[0.04,0.63],[0.11,0.67],[0,0.56],[0.07,0.52],[0.14,0.56],[0.18,0.49],[0.04,0.45],[0.11,0.42],[0.14,0.73],[0.07,0.78]],
  [[0,0.49],[0.04,0.42],[0.07,0.31],[0.11,0.46],[0,0.35],[0.14,0.4],[0.25,0.4],[0.32,0.38],[0.39,0.45],[0.46,0.4],[0.5,0.42],[0.61,0.56],[0.64,0.74],[0.68,0.85],[0.75,1.03],[0.64,0.45],[0.71,0.38],[0.79,0.35],[0.86,0.38],[0.93,0.35],[1,0.37],[0.75,0.27],[0.68,0.2],[0.57,0.17],[0.54,0.06],[0.64,0.02],[0.75,0.04],[0.86,0.09],[0.93,0.17],[0.89,0.27],[0.79,0.17],[0.7,0.3],[0.72,0.35],[0.8,0.3],[0.84,0.25],[0.78,0.1],[0.7,0.1],[0.62,0.12],[0.66,0.07],[0.82,0.05],[0.9,0.12]],
  [[0,0.32],[0,0.11],[0.25,0.06],[0.29,0.08],[0.46,0.07],[0.54,0.06],[0.57,0.07],[0.61,0.06],[0.64,0.08],[0.71,0.06],[0.79,0.07],[0.86,0.04],[0.89,0.02],[0.93,0.06],[1,0.04],[0.5,0.04],[0.68,0.04]],
  [[0,0.49],[0.21,0.54],[0.32,0.32],[0.43,0.49],[0.5,0.5],[0.57,0.49],[0.64,0.49],[0.71,0.47],[0.79,0.49],[0.86,0.45],[0.89,0.49],[0.93,0.45],[0.96,0.41],[1,0.45],[0.61,0.26],[0.75,0.13],[0.75,0.06],[0.29,0.02],[0.36,0.04],[0.46,0.06],[0.93,0.38]]
];

const DICE = [
  [[0,0.8],[0.04,0.65],[0.11,0.47],[0.21,0.51],[0.32,0.27],[0.43,0.4],[0.46,0.47],[0.39,0.65],[0.5,0.68],[0.46,0.58],[0.57,0.62],[0.64,0.65],[0.68,0.69],[0.71,0.56],[0.79,0.62],[0.82,0.65],[0.89,0.58],[0.96,0.69],[1,0.55],[0.93,0.4],[0.86,0.37],[0.75,0.24],[0.64,0.42],[0.57,0.51],[0.54,0.39],[0.68,0.55],[0.75,0.51],[0.86,0.47],[0.61,0.58],[0.43,0.63],[0.55,0.66],[0.72,0.66],[0.9,0.64]],
  [[0.5,1.14],[0.61,1.23],[0.68,1.12],[0.54,1.05],[0.64,1.01],[0.71,1.05],[0.75,0.91],[0.82,0.91],[0.89,0.8],[0.57,0.76],[0.68,0.69],[0.79,0.69],[0.75,0.62],[0.46,0.55],[0.57,0.51],[0.64,0.51],[0.82,0.51],[1,0.42],[0.89,0.3],[0.61,0.33],[0.68,0.19],[0.75,0.08],[0.5,0.22],[0.54,0.12],[0.07,0.6],[0.25,0.64],[0.25,0.53],[0.21,0.3],[0.11,0.15],[0.82,0.8],[0.71,0.83],[0.59,0.91]],
  [[0.46,0.78],[0.5,0.67],[0.25,0.64],[0.14,0.64],[0.61,0.64],[0.39,0.56],[0.32,0.49],[0.46,0.45],[0.57,0.42],[0.18,0.42],[0.07,0.38],[0,0.34],[0.14,0.34],[0.21,0.31],[0.29,0.27],[0.36,0.34],[0.43,0.23],[0.11,0.23],[0.18,0.16],[0.25,0.09],[0.32,0.03],[0.46,0.16],[0.57,0.16],[0.64,0.12],[0.79,0.12],[0.89,0.14],[0.61,0.27],[0.04,0.27],[0.32,0.23],[0.25,0.2]],
  [[0,2],[0.07,2],[0.14,2],[0.21,2],[0.7,2],[0.75,2],[0.82,2],[0.89,2],[0.96,2],[1,2],[0.79,1.91],[0.86,1.83],[0.93,1.76],[0.07,1.66],[0.36,1.62],[0.61,1.62],[0.54,1.44],[0.75,1.44],[0.32,1.21],[0.45,1.06],[0.11,1.04],[0.07,0.73],[0.04,0.66],[0.26,0.68],[0,0.49],[0.09,0.52],[0.21,0.36],[0.32,0.32],[0.38,0.39],[0.14,0.21],[0.11,0.18],[0.28,0.23],[0.25,0.07]],
  [[0,0.96],[0.21,0.87],[0.29,0.86],[0.36,0.88],[0.46,0.91],[0.54,0.84],[0.46,0.75],[0.39,0.62],[0.61,0.64],[0,0.71],[0.07,0.68],[0,0.57],[0.04,0.5],[0.04,0.36],[0,0.25],[0,0.14],[0.02,0.04],[0.25,0.46],[0.18,0.27],[0.18,0.16],[0.5,0.54],[0.57,0.46],[0.68,0.52],[0.75,0.5],[0.54,0.36],[0.61,0.25],[0.68,0.18],[0.82,0.25],[0.93,0.5],[0.96,0.55],[0.99,0.32],[0.96,0.21],[0.95,0.04],[0.36,0.18],[0.14,0.68]],
  [[0,2],[0.07,2],[0.14,2],[0.21,2],[0.29,2],[0.36,2],[0.43,2],[0.5,2],[0.57,2],[0.64,2],[0.71,2],[0.79,2],[0.86,2],[0.93,2],[1,2],[0.04,2],[0.02,2],[0.1,2],[0.17,2],[0.25,2],[0.32,2],[0.4,2],[0.47,2],[0.54,2],[0.6,2],[0.68,2],[0.75,2],[0.82,2],[0.9,2],[0.97,2],[0.46,1.99],[0.68,1.59],[0.68,1.32],[0.14,1.06],[0,0.96],[0.02,0.9],[0.07,0.67],[0,0.6],[0.07,0.17],[0.14,0.2],[0.18,0.13],[0.04,0.09],[0,0.04],[0.07,0.02],[0.11,0.06]],
  [[0,2],[0.07,2],[0.25,2],[0.61,2],[0.64,1.93],[0.04,1.78],[0,1.53],[0.04,1.53],[0.79,1.78],[0.71,1.75],[0,1.21],[0.07,1],[0,0.81],[0.07,0.63],[0.07,0.53],[0.04,0.35],[0.46,1.28],[0.79,1.37],[1,1.35],[0.43,1.03],[0.54,0.96],[0.61,1.06],[0.64,0.88],[0.71,0.81],[0.75,0.92],[0.82,1.03],[0.86,0.81],[0.89,0.71],[0.93,0.63],[0.68,0.71],[0.61,0.67],[0.54,0.6],[0.39,0.67],[0.39,0.54],[0.39,0.37],[0.57,0.53],[0.64,0.31],[0.68,0.2],[0.64,0.06],[0.82,0.06],[0.89,0.4],[0.82,0.53],[0.07,0.06],[0.75,0.75],[0.72,0.88]],
  [[0.57,0.88],[0.54,0.63],[0,0.31],[0.04,0.34],[0.11,0.36],[0.18,0.33],[0.02,0.24],[0.07,0.2],[0.14,0.27],[0.21,0.24],[0,0.13],[0.07,0.09],[0.04,0.02],[0.11,0.06],[0.25,0.13],[0.29,0.31],[0.32,0.24],[0.36,0.34],[0.39,0.27],[0.46,0.31],[0.46,0.38],[0.43,0.09],[0.5,0.06],[0.61,0.07],[0.64,0.16],[0.64,0.29],[0.75,0.34],[0.79,0.16],[0.82,0.27],[0.89,0.36],[0.93,0.56],[1,0.36],[0.93,0.14],[0.25,0.06],[0.18,0.02],[0.02,0.18],[0.05,0.28],[0.09,0.3],[0.12,0.2],[0.16,0.3],[0.2,0.28],[0.24,0.3],[0.3,0.3],[0.06,0.12],[0.15,0.1]],
  [[0,0.25],[0.21,0.41],[0.32,0.45],[0.29,0.66],[0.25,0.72],[0.32,0.73],[0.39,0.73],[0.46,0.72],[0.54,0.7],[0.57,0.66],[0.64,0.68],[0.68,0.64],[0.71,0.63],[0.75,0.66],[0.82,0.66],[0.89,0.68],[0.96,0.68],[0.68,0.56],[0.75,0.47],[0.79,0.38],[0.5,0.2],[0.57,0.16],[0.54,0.06],[0.61,0.27],[0.64,0.13],[0.75,0.13],[0.82,0.16],[0.89,0.2],[0.93,0.31],[0.96,0.27],[0.96,0.13],[1,0.02],[0.86,0.31],[0.35,0.72],[0.42,0.74],[0.5,0.71],[0.6,0.68],[0.7,0.66],[0.78,0.64]]
];

const SERIES = [MB_AR, FQE_D, FQE_L2, MB_FF, DR, VPM, IS, DICE];

// ---- layout of the facet grid (pixels) ----
const PANEL = 103;            // plot area side
const ORIGIN_X = 73, ORIGIN_Y = 27;
const STEP_X = 118.6, STEP_Y = 118;
const Y_AXIS_W = 56;          // room for y tick labels (first column)
const X_AXIS_H = 34;          // room for x tick labels (last row)
const MARGIN = 7;             // spare canvas border so edge labels are not cut
const FONT = "'DejaVu Sans', sans-serif";
const TICK_FONT_SIZE = 16.5;

const fig = document.getElementById('fig');

function hexToRgba(hex, a) {
  const n = parseInt(hex.slice(1), 16);
  return `rgba(${(n >> 16) & 255},${(n >> 8) & 255},${n & 255},${a})`;
}

const ALL_BREAKS = MAJOR_TICKS.concat(MINOR_TICKS).sort((a, b) => a - b);
const isMajor = v => MAJOR_TICKS.some(m => Math.abs(m - v) < 1e-9);
const tickLabel = v => {
  const i = MAJOR_TICKS.findIndex(m => Math.abs(m - v) < 1e-9);
  return i >= 0 ? TICK_LABELS[i] : '';
};

// Fix the axis box size and drop the label overflow padding Chart.js adds,
// so every panel gets exactly the same plotting area.
function fixBox(size, vertical) {
  return s => {
    if (vertical) s.width = size; else s.height = size;
    s.paddingTop = 0; s.paddingBottom = 0; s.paddingLeft = 0; s.paddingRight = 0;
  };
}

function axisOptions(showLabels, fitFn, padding) {
  return {
    type: 'linear',
    min: AXIS_LIMITS[0],
    max: AXIS_LIMITS[1],
    afterBuildTicks: s => { s.ticks = ALL_BREAKS.map(v => ({ value: v })); },
    afterFit: fitFn,
    border: { display: false },
    grid: {
      drawTicks: false,
      color: ctx => isMajor(ctx.tick.value) ? '#e9e9e9' : '#f4f4f4',
      lineWidth: ctx => isMajor(ctx.tick.value) ? 1.4 : 1
    },
    ticks: {
      display: showLabels,
      autoSkip: false,
      maxRotation: 0,
      minRotation: 0,
      padding: padding,
      color: '#4d4d4d',
      font: { family: FONT, size: TICK_FONT_SIZE },
      callback: v => tickLabel(v)
    }
  };
}

for (let r = 0; r < ENVS.length; r++) {
  for (let c = 0; c < METHODS.length; c++) {
    const left = Math.round(ORIGIN_X + c * STEP_X);
    const top = Math.round(ORIGIN_Y + r * STEP_Y);
    const firstCol = c === 0;
    const lastRow = r === ENVS.length - 1;
    const yW = firstCol ? Y_AXIS_W : 0;
    const xH = lastRow ? X_AXIS_H : 0;

    const cv = document.createElement('canvas');
    const w = PANEL + yW + 2 * MARGIN;
    const h = PANEL + xH + 2 * MARGIN;
    cv.width = w; cv.height = h;
    cv.style.width = w + 'px'; cv.style.height = h + 'px';
    cv.style.left = (left - yW - MARGIN) + 'px';
    cv.style.top = (top - MARGIN) + 'px';
    fig.appendChild(cv);

    const pts = SERIES[c][r].map(([x, y]) => ({ x, y }));

    new Chart(cv, {
      type: 'scatter',
      data: {
        datasets: [
          {
            data: pts,
            backgroundColor: hexToRgba(COLORS[c], 0.85),
            borderWidth: 0,
            pointRadius: 2.7,
            pointHoverRadius: 2.7
          },
          {
            type: 'line',
            data: [{ x: AXIS_LIMITS[0], y: AXIS_LIMITS[0] }, { x: AXIS_LIMITS[1], y: AXIS_LIMITS[1] }],
            borderColor: '#9e9e9e',
            borderWidth: 1,
            pointRadius: 0,
            fill: false
          }
        ]
      },
      options: {
        responsive: false,
        animation: false,
        devicePixelRatio: 1,
        events: [],
        layout: { padding: MARGIN },
        plugins: { legend: { display: false }, tooltip: { enabled: false } },
        scales: {
          x: axisOptions(lastRow, fixBox(xH, false), 13),
          y: axisOptions(firstCol, fixBox(yW, true), 15)
        }
      }
    });

    if (r === 0) {
      const t = document.createElement('div');
      t.className = 'strip-top';
      t.textContent = METHODS[c];
      t.style.left = (left + PANEL / 2) + 'px';
      t.style.top = '15px';
      fig.appendChild(t);
    }
  }
  const s = document.createElement('div');
  s.className = 'strip-right';
  s.textContent = ENVS[r].join('\n');
  s.style.left = '1017px';
  s.style.top = (Math.round(ORIGIN_Y + r * STEP_Y) + PANEL / 2) + 'px';
  fig.appendChild(s);
}

const xt = document.createElement('div');
xt.className = 'axis-title';
xt.textContent = X_TITLE;
xt.style.left = '524px';
xt.style.top = '1118px';
xt.style.transform = 'translate(-50%, -50%)';
fig.appendChild(xt);

const yt = document.createElement('div');
yt.className = 'axis-title';
yt.textContent = Y_TITLE;
yt.style.left = '18px';
yt.style.top = '568px';
yt.style.transform = 'translate(-50%, -50%) rotate(-90deg)';
fig.appendChild(yt);
</script>
</body>
</html>
